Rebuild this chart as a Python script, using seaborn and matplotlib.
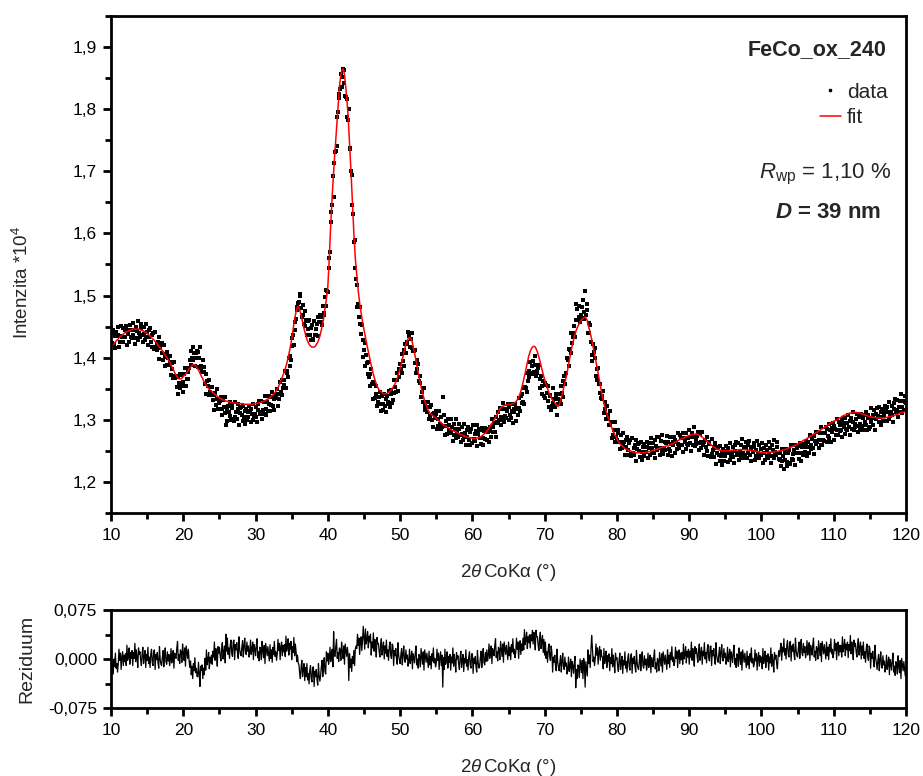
import matplotlib

matplotlib.use("Agg")
import matplotlib.pyplot as plt
from matplotlib.lines import Line2D
from matplotlib.ticker import FuncFormatter, MultipleLocator
import numpy as np
import pandas as pd
import seaborn as sns

# 2theta scan grid (degrees)
TWO_THETA_START = 10.0
TWO_THETA_STEP = 0.1
N_POINTS = 1101

# fitted profile, intensity in units of 10^4 counts, one row = 1 degree
FIT = [
    1.417, 1.418, 1.420, 1.421, 1.422, 1.424, 1.425, 1.427, 1.428, 1.429,
    1.430, 1.432, 1.433, 1.434, 1.435, 1.436, 1.437, 1.438, 1.439, 1.440,
    1.441, 1.441, 1.442, 1.442, 1.443, 1.443, 1.444, 1.444, 1.445, 1.445,
    1.446, 1.446, 1.446, 1.446, 1.446, 1.446, 1.446, 1.446, 1.446, 1.446,
    1.445, 1.445, 1.444, 1.444, 1.443, 1.443, 1.442, 1.441, 1.441, 1.440,
    1.439, 1.438, 1.437, 1.436, 1.435, 1.434, 1.432, 1.431, 1.430, 1.429,
    1.428, 1.426, 1.425, 1.423, 1.422, 1.420, 1.419, 1.417, 1.416, 1.414,
    1.413, 1.411, 1.410, 1.408, 1.406, 1.404, 1.402, 1.401, 1.399, 1.397,
    1.395, 1.393, 1.391, 1.388, 1.386, 1.384, 1.381, 1.379, 1.376, 1.374,
    1.372, 1.370, 1.369, 1.367, 1.366, 1.366, 1.366, 1.366, 1.367, 1.368,
    1.370, 1.371, 1.372, 1.373, 1.375, 1.376, 1.378, 1.380, 1.382, 1.383,
    1.385, 1.386, 1.388, 1.388, 1.389, 1.389, 1.388, 1.387, 1.386, 1.384,
    1.382, 1.380, 1.378, 1.375, 1.373, 1.370, 1.368, 1.366, 1.363, 1.361,
    1.359, 1.357, 1.355, 1.353, 1.352, 1.350, 1.349, 1.348, 1.347, 1.346,
    1.345, 1.344, 1.343, 1.342, 1.341, 1.340, 1.339, 1.338, 1.337, 1.336,
    1.335, 1.335, 1.334, 1.333, 1.333, 1.332, 1.332, 1.331, 1.331, 1.330,
    1.330, 1.330, 1.329, 1.329, 1.329, 1.328, 1.328, 1.328, 1.328, 1.327,
    1.327, 1.327, 1.327, 1.327, 1.327, 1.327, 1.326, 1.326, 1.326, 1.326,
    1.326, 1.326, 1.326, 1.326, 1.325, 1.325, 1.325, 1.325, 1.325, 1.325,
    1.325, 1.325, 1.325, 1.325, 1.325, 1.325, 1.325, 1.325, 1.326, 1.326,
    1.326, 1.326, 1.327, 1.327, 1.327, 1.328, 1.328, 1.328, 1.329, 1.329,
    1.329, 1.330, 1.330, 1.331, 1.331, 1.332, 1.333, 1.333, 1.334, 1.335,
    1.336, 1.337, 1.338, 1.339, 1.340, 1.341, 1.343, 1.344, 1.346, 1.348,
    1.350, 1.352, 1.354, 1.357, 1.360, 1.363, 1.366, 1.369, 1.372, 1.375,
    1.378, 1.382, 1.386, 1.390, 1.395, 1.400, 1.405, 1.411, 1.417, 1.423,
    1.430, 1.438, 1.446, 1.454, 1.462, 1.468, 1.474, 1.478, 1.482, 1.482,
    1.480, 1.477, 1.473, 1.468, 1.463, 1.458, 1.452, 1.447, 1.442, 1.438,
    1.434, 1.430, 1.427, 1.424, 1.422, 1.420, 1.419, 1.418, 1.417, 1.417,
    1.417, 1.417, 1.418, 1.419, 1.421, 1.423, 1.425, 1.428, 1.431, 1.435,
    1.440, 1.445, 1.450, 1.456, 1.462, 1.470, 1.478, 1.486, 1.495, 1.505,
    1.515, 1.537, 1.560, 1.588, 1.615, 1.638, 1.660, 1.680, 1.700, 1.718,
    1.735, 1.752, 1.770, 1.788, 1.805, 1.820, 1.835, 1.846, 1.855, 1.861,
    1.864, 1.865, 1.862, 1.855, 1.845, 1.833, 1.820, 1.806, 1.790, 1.768,
    1.745, 1.723, 1.700, 1.675, 1.650, 1.625, 1.600, 1.580, 1.560, 1.546,
    1.533, 1.520, 1.508, 1.498, 1.488, 1.480, 1.472, 1.465, 1.458, 1.451,
    1.445, 1.439, 1.433, 1.427, 1.421, 1.415, 1.410, 1.404, 1.399, 1.393,
    1.388, 1.383, 1.378, 1.373, 1.369, 1.365, 1.361, 1.358, 1.355, 1.352,
    1.350, 1.348, 1.347, 1.346, 1.345, 1.344, 1.343, 1.342, 1.342, 1.342,
    1.342, 1.342, 1.342, 1.343, 1.344, 1.345, 1.346, 1.347, 1.349, 1.350,
    1.352, 1.354, 1.356, 1.358, 1.361, 1.364, 1.367, 1.371, 1.375, 1.379,
    1.383, 1.387, 1.392, 1.397, 1.402, 1.407, 1.412, 1.417, 1.422, 1.425,
    1.428, 1.430, 1.432, 1.432, 1.432, 1.431, 1.428, 1.424, 1.418, 1.413,
    1.407, 1.401, 1.395, 1.388, 1.382, 1.376, 1.370, 1.364, 1.359, 1.353,
    1.348, 1.343, 1.339, 1.334, 1.330, 1.327, 1.324, 1.321, 1.318, 1.315,
    1.313, 1.311, 1.310, 1.309, 1.308, 1.307, 1.306, 1.305, 1.304, 1.303,
    1.302, 1.301, 1.300, 1.299, 1.298, 1.297, 1.296, 1.295, 1.294, 1.293,
    1.292, 1.291, 1.290, 1.290, 1.289, 1.288, 1.287, 1.287, 1.286, 1.285,
    1.284, 1.284, 1.283, 1.283, 1.282, 1.282, 1.281, 1.281, 1.280, 1.279,
    1.278, 1.278, 1.277, 1.277, 1.276, 1.276, 1.275, 1.275, 1.274, 1.274,
    1.273, 1.273, 1.272, 1.272, 1.272, 1.272, 1.271, 1.271, 1.271, 1.271,
    1.270, 1.270, 1.270, 1.270, 1.270, 1.270, 1.271, 1.271, 1.271, 1.271,
    1.272, 1.272, 1.273, 1.274, 1.275, 1.276, 1.277, 1.278, 1.279, 1.280,
    1.282, 1.283, 1.285, 1.287, 1.289, 1.291, 1.293, 1.294, 1.296, 1.298,
    1.300, 1.302, 1.304, 1.306, 1.308, 1.310, 1.313, 1.315, 1.318, 1.319,
    1.320, 1.321, 1.322, 1.322, 1.323, 1.323, 1.324, 1.324, 1.324, 1.324,
    1.325, 1.325, 1.325, 1.325, 1.325, 1.326, 1.326, 1.326, 1.327, 1.328,
    1.329, 1.330, 1.332, 1.334, 1.336, 1.339, 1.342, 1.346, 1.350, 1.355,
    1.360, 1.365, 1.370, 1.375, 1.381, 1.386, 1.392, 1.397, 1.403, 1.406,
    1.410, 1.413, 1.415, 1.417, 1.418, 1.418, 1.418, 1.417, 1.415, 1.412,
    1.409, 1.405, 1.401, 1.397, 1.392, 1.387, 1.382, 1.378, 1.373, 1.369,
    1.365, 1.361, 1.357, 1.354, 1.350, 1.347, 1.343, 1.341, 1.338, 1.336,
    1.333, 1.332, 1.330, 1.329, 1.327, 1.326, 1.324, 1.323, 1.322, 1.322,
    1.324, 1.327, 1.331, 1.335, 1.340, 1.345, 1.350, 1.355, 1.360, 1.365,
    1.370, 1.376, 1.382, 1.389, 1.395, 1.401, 1.407, 1.413, 1.419, 1.424,
    1.429, 1.434, 1.438, 1.442, 1.445, 1.448, 1.451, 1.453, 1.455, 1.457,
    1.459, 1.461, 1.462, 1.463, 1.464, 1.465, 1.465, 1.464, 1.462, 1.460,
    1.453, 1.449, 1.445, 1.440, 1.435, 1.430, 1.424, 1.418, 1.412, 1.406,
    1.400, 1.394, 1.387, 1.381, 1.375, 1.368, 1.362, 1.355, 1.349, 1.343,
    1.337, 1.332, 1.327, 1.322, 1.318, 1.314, 1.310, 1.306, 1.303, 1.300,
    1.296, 1.293, 1.290, 1.287, 1.284, 1.281, 1.279, 1.276, 1.274, 1.272,
    1.269, 1.267, 1.265, 1.264, 1.262, 1.260, 1.259, 1.258, 1.257, 1.256,
    1.255, 1.254, 1.253, 1.253, 1.252, 1.252, 1.251, 1.251, 1.250, 1.250,
    1.249, 1.249, 1.248, 1.248, 1.248, 1.248, 1.247, 1.247, 1.247, 1.247,
    1.247, 1.247, 1.247, 1.247, 1.247, 1.247, 1.247, 1.247, 1.247, 1.247,
    1.248, 1.248, 1.248, 1.248, 1.249, 1.249, 1.249, 1.249, 1.250, 1.250,
    1.251, 1.251, 1.252, 1.252, 1.252, 1.252, 1.253, 1.253, 1.254, 1.254,
    1.255, 1.255, 1.256, 1.256, 1.256, 1.256, 1.257, 1.257, 1.258, 1.258,
    1.258, 1.258, 1.259, 1.259, 1.260, 1.260, 1.261, 1.261, 1.262, 1.263,
    1.264, 1.264, 1.265, 1.265, 1.266, 1.267, 1.268, 1.268, 1.269, 1.269,
    1.270, 1.270, 1.271, 1.271, 1.272, 1.272, 1.273, 1.273, 1.274, 1.274,
    1.275, 1.275, 1.276, 1.276, 1.276, 1.276, 1.277, 1.277, 1.277, 1.277,
    1.277, 1.277, 1.276, 1.276, 1.275, 1.275, 1.274, 1.273, 1.272, 1.271,
    1.270, 1.269, 1.268, 1.267, 1.266, 1.265, 1.264, 1.263, 1.262, 1.261,
    1.260, 1.259, 1.258, 1.257, 1.256, 1.256, 1.255, 1.254, 1.253, 1.253,
    1.252, 1.252, 1.251, 1.251, 1.251, 1.250, 1.250, 1.250, 1.250, 1.250,
    1.250, 1.250, 1.250, 1.250, 1.250, 1.250, 1.250, 1.250, 1.251, 1.251,
    1.251, 1.251, 1.251, 1.251, 1.251, 1.251, 1.251, 1.251, 1.252, 1.252,
    1.252, 1.252, 1.252, 1.252, 1.252, 1.252, 1.252, 1.252, 1.252, 1.252,
    1.251, 1.251, 1.251, 1.251, 1.251, 1.251, 1.250, 1.250, 1.250, 1.250,
    1.250, 1.250, 1.249, 1.249, 1.249, 1.249, 1.248, 1.248, 1.248, 1.248,
    1.247, 1.247, 1.247, 1.247, 1.247, 1.247, 1.247, 1.247, 1.247, 1.247,
    1.248, 1.248, 1.248, 1.248, 1.248, 1.248, 1.248, 1.248, 1.249, 1.249,
    1.249, 1.249, 1.249, 1.249, 1.250, 1.250, 1.250, 1.250, 1.251, 1.251,
    1.252, 1.252, 1.252, 1.252, 1.253, 1.253, 1.254, 1.254, 1.255, 1.255,
    1.256, 1.256, 1.257, 1.257, 1.258, 1.258, 1.259, 1.259, 1.260, 1.260,
    1.261, 1.262, 1.263, 1.263, 1.264, 1.264, 1.265, 1.266, 1.267, 1.267,
    1.268, 1.268, 1.269, 1.270, 1.271, 1.271, 1.272, 1.273, 1.274, 1.274,
    1.275, 1.276, 1.277, 1.277, 1.278, 1.279, 1.280, 1.280, 1.281, 1.282,
    1.283, 1.283, 1.284, 1.285, 1.286, 1.286, 1.287, 1.288, 1.289, 1.289,
    1.290, 1.291, 1.292, 1.292, 1.293, 1.294, 1.295, 1.295, 1.296, 1.297,
    1.298, 1.298, 1.299, 1.299, 1.300, 1.301, 1.302, 1.302, 1.303, 1.303,
    1.304, 1.305, 1.306, 1.306, 1.307, 1.307, 1.308, 1.308, 1.309, 1.309,
    1.310, 1.310, 1.311, 1.311, 1.311, 1.311, 1.312, 1.312, 1.312, 1.312,
    1.312, 1.312, 1.312, 1.311, 1.311, 1.311, 1.311, 1.310, 1.310, 1.310,
    1.309, 1.309, 1.308, 1.308, 1.307, 1.307, 1.307, 1.306, 1.306, 1.305,
    1.305, 1.305, 1.305, 1.304, 1.304, 1.304, 1.304, 1.304, 1.304, 1.303,
    1.303, 1.303, 1.303, 1.303, 1.303, 1.303, 1.303, 1.303, 1.303, 1.303,
    1.303, 1.303, 1.304, 1.304, 1.304, 1.304, 1.305, 1.305, 1.305, 1.305,
    1.306, 1.306, 1.306, 1.307, 1.307, 1.308, 1.308, 1.309, 1.309, 1.309,
    1.310, 1.310, 1.311, 1.311, 1.312, 1.312, 1.312, 1.312, 1.313, 1.313,
    1.313,
]

# residual (fit - data) in counts, one row = 1 degree
RESIDUAL_COUNTS = [
    -300, -220, -40, -230, 0, -110, 90, -140, -70, -200,
    -70, 150, -20, 90, -160, 30, 110, -100, 60, -40,
    80, -100, 210, -20, 50, 170, -80, 100, 10, 130,
    -100, 100, 10, 240, -40, 140, 30, -130, 170, 70,
    110, -20, -100, 80, 180, -70, 40, 130, -130, 70,
    -20, 180, -70, 30, -130, 80, 150, -50, -100, 120,
    140, -160, 70, -10, 100, -60, -140, 190, 0, -80,
    -100, 30, 130, -120, 50, 170, -40, -80, 110, -30,
    70, -100, -20, 160, -60, 20, 130, -140, 90, 30,
    10, 170, 270, -20, 70, -70, 140, 110, -50, 230,
    90, -20, 170, -110, 200, 110, 10, 150, -20, -130,
    -30, -240, -110, -300, -70, -180, 20, -210, -140, -270,
    -270, -50, -220, -420, -110, -170, -90, -300, -140, -240,
    10, -170, 140, -90, -20, 100, -150, 30, -60, 60,
    -80, 120, 30, 260, -20, 160, 50, -110, 190, 90,
    180, 50, -30, 150, 250, 0, 110, 200, -60, 380,
    120, 320, 70, 170, 10, 220, 290, 90, 40, 260,
    290, -10, 220, 140, 250, 90, 10, 340, 150, 70,
    50, 180, 280, 30, 200, 320, 110, 70, 260, 120,
    200, 30, 110, 290, 70, 150, 260, -10, 220, 160,
    50, 210, 310, 20, 110, -30, 180, 150, -10, 270,
    130, 20, 210, -70, 240, 150, 50, 190, 80, -30,
    220, 10, 140, -50, 180, 70, 270, 40, 110, -20,
    80, 300, 130, 240, -10, 180, 260, 50, 210, 110,
    220, 40, 350, 120, 190, 310, 60, 240, 150, 270,
    -10, 190, 100, 330, 50, 230, 120, -40, 60, -60,
    -90, -220, -300, -120, -20, -270, -160, -70, -330, -130,
    -270, -70, -320, -220, -380, -170, -100, -300, -350, -130,
    -120, -420, -190, -270, -160, -320, -400, -70, -260, -340,
    -250, -120, -20, -270, -100, 20, -190, -230, 110, -30,
    90, -80, 0, 180, -40, 40, 150, -120, 420, 50,
    40, 200, 300, 10, 100, -40, 170, 140, -20, 260,
    120, 10, 200, -80, 230, 140, 40, 180, 70, -330,
    80, -130, 0, -190, 40, -70, 130, -100, 150, 200,
    160, 380, 210, 320, 70, 260, 340, 130, 290, 500,
    330, 150, 460, 230, 300, 420, 170, 350, 260, 380,
    60, 260, 170, 400, 120, 300, 190, 30, 330, 230,
    240, 110, 30, 210, 310, 60, 170, 260, 0, 200,
    90, 290, 40, 140, -20, 190, 260, 60, 10, 230,
    200, -100, 130, 50, 160, 0, -80, 250, 60, -20,
    -70, 60, 160, -90, 80, 200, -10, -50, 140, 0,
    60, -110, -30, 150, -70, 10, 120, -150, 80, 20,
    -60, 100, 200, -90, 0, -140, 70, 40, -120, 160,
    30, -80, 110, -170, 140, 50, -50, 90, -20, -130,
    120, -90, 40, -150, 80, -30, 170, -60, 10, -120,
    -70, 150, -20, 90, -160, 30, 110, -100, 60, -430,
    20, -160, 150, -80, -10, 110, -140, 40, -50, 70,
    -170, 30, -60, 170, -110, 70, -40, -200, 100, 0,
    50, -80, -160, 20, 120, -130, -20, 70, -190, 10,
    -60, 140, -110, -10, -170, 40, 110, -90, -140, 80,
    80, -220, 10, -70, 40, -120, -200, 130, -60, -140,
    -110, 20, 120, -130, 40, 160, -50, -90, 100, -40,
    140, -30, 50, 230, 10, 90, 200, -70, 160, 100,
    50, 210, 310, 20, 110, -30, 180, 150, -10, 270,
    150, 40, 230, -50, 260, 170, 70, 210, 100, -10,
    260, 50, 180, -10, 220, 110, 310, 80, 150, 20,
    100, 320, 150, 260, 10, 200, 280, 70, 230, 130,
    320, 140, 450, 220, 290, 410, 160, 340, 250, 370,
    170, 370, 280, 440, 230, 410, 300, 140, 440, 340,
    340, 210, 130, 310, 410, 160, 270, 360, 100, 300,
    60, 260, 10, 110, -50, 160, 230, 30, -20, 200,
    100, -200, 30, -50, 60, -100, -180, 150, -40, -120,
    -180, -50, 50, -200, -30, 90, -120, -160, 30, -110,
    -60, -230, -150, 30, -190, -110, 0, -270, -40, -100,
    -220, -60, 40, -440, -160, -300, -90, -120, -280, 0,
    -100, -210, -20, -300, 10, -80, -430, -40, -150, -260,
    140, -70, 60, -130, 100, 360, 190, -40, 30, -100,
    10, 230, 60, 170, -80, 110, 190, -20, 140, 40,
    30, -150, 160, -70, 0, 120, -130, 50, -40, 80,
    -180, 20, -70, 160, -120, 60, -50, -210, 90, -10,
    20, -110, -190, -10, 90, -160, -50, 40, -220, -20,
    -90, 110, -140, -40, -200, 10, 80, -120, -170, 50,
    80, -220, 10, -70, 40, -120, -200, 130, -60, -140,
    -160, -30, 70, -180, -10, 110, -100, -140, 50, -90,
    0, -170, -90, 90, -130, -50, 60, -210, 20, -40,
    -120, 40, 140, -150, -60, -200, 10, -20, -180, 100,
    0, -110, 80, -200, 110, 20, -80, 60, -50, -160,
    140, -70, 60, -130, 100, -10, 190, -40, 30, -100,
    -40, 180, 10, 120, -130, 60, 140, -70, 90, -10,
    100, -80, 230, 0, 70, 190, -60, 120, 30, 150,
    -80, 120, 30, 260, -20, 160, 50, -110, 190, 90,
    160, 30, -50, 130, 230, -20, 90, 180, -80, 120,
    50, 250, 0, 100, -60, 150, 220, 20, -30, 190,
    200, -100, 130, 50, 160, 0, -80, 250, 60, -20,
    -50, 80, 180, -70, 100, 220, 10, -30, 160, 20,
    90, -80, 0, 180, -40, 40, 150, -120, 110, 50,
    -50, 110, 210, -80, 10, -130, 80, 50, -110, 170,
    30, -80, 110, -170, 140, 50, -50, 90, -20, -130,
    120, -90, 40, -150, 80, -30, 170, -60, 10, -120,
    -80, 140, -30, 80, -170, 20, 100, -110, 50, -50,
    30, -150, 160, -70, 0, 120, -130, 50, -40, 80,
    -170, 30, -60, 170, -110, 70, -40, -200, 100, 0,
    60, -70, -150, 30, 130, 40, 150, 240, -20, 180,
    110, 310, 60, 160, 0, 210, 280, 80, 30, 250,
    270, -30, 200, 120, 230, 70, -10, 320, 130, 50,
    30, 160, 260, 10, 180, 300, 90, 50, 240, 100,
    190, 20, 100, 280, 60, 140, 250, -20, 210, 150,
    60, 220, 320, 30, 120, -20, 190, 160, 0, 280,
    160, 50, 240, -40, 270, 180, 80, 220, 110, 0,
    260, 50, 180, -10, 220, 110, 310, 80, 150, 20,
    80, 300, 130, 240, -10, 180, 260, 50, 210, 110,
    210, 30, 340, 110, 180, 300, 50, 230, 140, 260,
    20, 220, 130, 360, 80, 260, 150, -10, 290, 190,
    240, 110, 30, 210, 310, 60, 170, 260, 0, 200,
    60, 260, 10, 110, -50, 160, 230, 30, -20, 200,
    160, -140, 90, 10, 120, -40, -120, 210, 20, -60,
    -160, -30, 70, -180, -10, 110, -100, -140, 50, -90,
    -30, -200, -120, 60, -160, -80, 30, -240, -10, -70,
    -170, -10, 90, -200, -110, -250, -40, -70, -230, 50,
    -100, -210, -20, -300, 10, -80, -180, -40, -150, -260,
    -140,
]

SAMPLE = "FeCo_ox_240"
RWP_TEXT = "1,10 %"
D_TEXT = "39 nm"

two_theta = TWO_THETA_START + TWO_THETA_STEP * np.arange(N_POINTS)
df = pd.DataFrame({"two_theta": two_theta, "fit": FIT})
df["residual"] = np.array(RESIDUAL_COUNTS) / 1e4
df["data"] = df["fit"] - df["residual"]

sns.set_theme(style="ticks")
plt.rcParams["font.family"] = ["Liberation Sans", "DejaVu Sans"]
plt.rcParams["mathtext.fontset"] = "custom"
plt.rcParams["mathtext.rm"] = "Liberation Sans"
plt.rcParams["mathtext.it"] = "Liberation Sans:italic"
plt.rcParams["mathtext.bf"] = "Liberation Sans:bold"
if "mathtext.bfit" in plt.rcParams:
    plt.rcParams["mathtext.bfit"] = "Liberation Sans:italic:bold"

comma = FuncFormatter(lambda v, p: f"{v:.1f}".replace(".", ","))
comma3 = FuncFormatter(lambda v, p: f"{v:.3f}".replace(".", ",").replace("-0,000", "0,000"))

fig = plt.figure(figsize=(9.23, 7.76), dpi=100)
ax = fig.add_axes([0.1203, 0.3389, 0.8613, 0.6405])
axr = fig.add_axes([0.1203, 0.0876, 0.8613, 0.1263])

sns.scatterplot(data=df, x="two_theta", y="data", ax=ax, color="black",
                marker="s", s=5, linewidth=0, legend=False)
sns.lineplot(data=df, x="two_theta", y="fit", ax=ax, color="red",
             linewidth=1.1, estimator=None, legend=False)
sns.lineplot(data=df, x="two_theta", y="residual", ax=axr, color="black",
             linewidth=0.9, estimator=None, legend=False)

xlabel = "2$\\it{\\theta}\\,$CoKα (°)"
for a in (ax, axr):
    a.set_xlim(10, 120)
    a.xaxis.set_major_locator(MultipleLocator(10))
    a.xaxis.set_minor_locator(MultipleLocator(5))
    for s in a.spines.values():
        s.set_visible(True)
        s.set_linewidth(2.0)
        s.set_color("black")
    a.tick_params(which="major", direction="out", length=6, width=2,
                  labelsize=12.5, color="black", labelcolor="black")
    a.tick_params(which="minor", direction="out", length=4, width=2, color="black")
    a.tick_params(axis="x", which="both", top=False, pad=5)
    a.tick_params(axis="y", which="both", right=False, pad=4)
    a.set_xlabel(xlabel, fontsize=13.5, va="top")

ax.set_ylim(1.15, 1.95)
ax.yaxis.set_major_locator(MultipleLocator(0.1))
ax.yaxis.set_minor_locator(MultipleLocator(0.05))
ax.yaxis.set_major_formatter(comma)
ax.set_ylabel("Intenzita *10$^4$", fontsize=13.5)
ax.yaxis.set_label_coords(-0.099, 0.465)
ax.xaxis.set_label_coords(0.5, -0.098)

axr.set_ylim(-0.075, 0.075)
axr.yaxis.set_major_locator(MultipleLocator(0.075))
axr.yaxis.set_minor_locator(MultipleLocator(0.0375))
axr.yaxis.set_major_formatter(comma3)
axr.set_ylabel("Reziduum", fontsize=14)
axr.yaxis.set_label_coords(-0.095, 0.5)
axr.xaxis.set_label_coords(0.5, -0.495)

ax.text(0.976, 0.9215, SAMPLE, transform=ax.transAxes, ha="right",
        va="baseline", fontsize=15.5, fontweight="bold")
handles = [
    Line2D([], [], color="black", marker="s", markersize=1.8, linestyle="none"),
    Line2D([], [], color="red", linewidth=1.1),
]
ax.legend(handles, ["data", "fit"], loc="upper right", bbox_to_anchor=(0.977, 0.866),
          frameon=False, fontsize=15, borderpad=0, borderaxespad=0,
          handlelength=1.0, handletextpad=0.3, labelspacing=0.3)
ax.text(0.982, 0.674, "$R_{\\rm wp}$ = " + RWP_TEXT, transform=ax.transAxes,
        ha="right", va="baseline", fontsize=16)
bfit = "$\\mathbfit{D}$" if "mathtext.bfit" in plt.rcParams else "$\\mathbf{D}$"
ax.text(0.9686, 0.5936, bfit + " = " + D_TEXT, transform=ax.transAxes,
        ha="right", va="baseline", fontsize=16, fontweight="bold")

fig.savefig("out.png", dpi=100)
plt.close(fig)
